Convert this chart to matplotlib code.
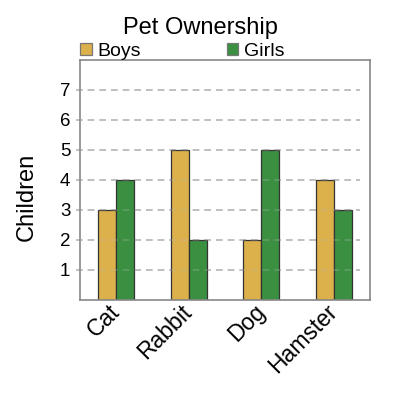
import matplotlib
matplotlib.use("Agg")
import matplotlib.pyplot as plt
import numpy as np

plt.rcParams['font.family'] = ['Liberation Sans', 'DejaVu Sans']

pets = ["Cat", "Rabbit", "Dog", "Hamster"]
boys = [3, 5, 2, 4]
girls = [4, 2, 5, 3]
series_names = ["Boys", "Girls"]
yticks = [1, 2, 3, 4, 5, 6, 7]

boys_color = "#dcb04a"
girls_color = "#3a9040"

fig = plt.figure(figsize=(4, 4), dpi=100)
ax = fig.add_axes([0.2, 0.25, 0.725, 0.6])

x = np.arange(len(pets)) + 0.5
w = 0.25
b1 = ax.bar(x - w / 2, boys, w, color=boys_color, edgecolor="#333333", linewidth=0.9, zorder=2)
b2 = ax.bar(x + w / 2, girls, w, color=girls_color, edgecolor="#333333", linewidth=0.9, zorder=2)

# dashed grid, sticking out a bit left of the axis like tick marks
for t in yticks:
    ax.axhline(t, xmin=-0.014, xmax=0.966, color="#b8b8b8", linestyle=(0, (4, 3)),
               linewidth=1.2, clip_on=False, zorder=1)
    # faint copy over the bars, same dash phase
    ax.axhline(t, xmin=-0.014, xmax=0.966, color="#b8b8b8", linestyle=(0, (4, 3)),
               linewidth=1.2, alpha=0.3, zorder=3)

ax.set_xlim(0, len(pets))
ax.set_ylim(0, 8)
ax.set_yticks(yticks)
ax.set_xticks(x)
ax.set_xticklabels(pets, rotation=45, ha="right", va="center", rotation_mode="anchor", fontsize=16.5)
ax.tick_params(axis="both", length=0)
ax.tick_params(axis="y", pad=7, labelsize=13.5)
ax.tick_params(axis="x", pad=6)

for s in ax.spines.values():
    s.set_color("#888888")
    s.set_linewidth(1.2)

ax.set_ylabel("Children", fontsize=17)
ax.yaxis.set_label_coords(-0.145, 0.43)
fig.text(0.5, 0.93, "Pet Ownership", ha="center", va="center", fontsize=17)

leg = ax.legend([b1, b2], series_names, ncol=2, loc="lower left", bbox_to_anchor=(0.0, 1.0),
                frameon=False, fontsize=14, handlelength=0.6, handleheight=0.6,
                handletextpad=0.3, columnspacing=4.4, borderpad=0, borderaxespad=0.0)
for h in leg.legend_handles:
    h.set_edgecolor("#777777")

fig.savefig("out.png", dpi=100)
